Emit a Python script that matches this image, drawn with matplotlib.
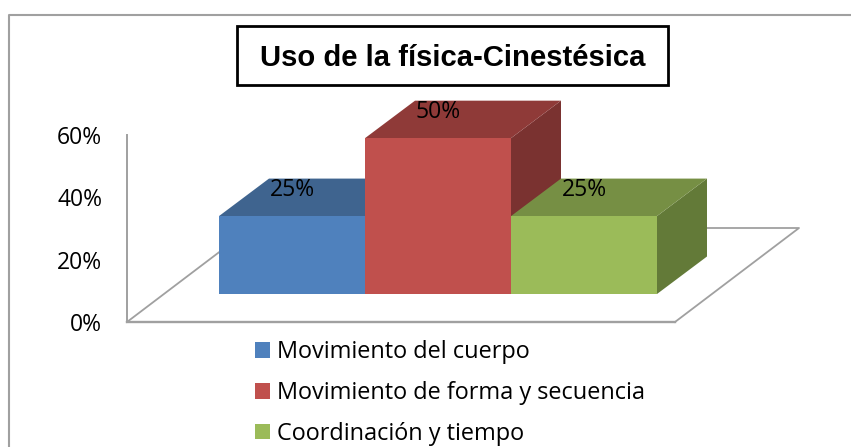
import matplotlib
matplotlib.use('Agg')
from matplotlib import pyplot as plt
from matplotlib.patches import Patch, Polygon, Rectangle

title = 'Uso de la física-Cinestésica'
categories = ['Movimiento del cuerpo', 'Movimiento de forma y secuencia', 'Coordinación y tiempo']
values = [25, 50, 25]
labels = ['25%', '50%', '25%']
yticks = [0, 20, 40, 60]
ytick_labels = ['0%', '20%', '40%', '60%']

front_colors = ['#4F81BD', '#C0504D', '#9BBB59']
top_colors = ['#3F648F', '#8F3A38', '#768F44']
side_colors = ['#35557A', '#7A3230', '#637A38']
GRAY = '#A0A0A0'
FONT = 'Open Sans'

W, H = 851, 447
fig = plt.figure(figsize=(W / 100, H / 100), dpi=100)
ax = fig.add_axes([0, 0, 1, 1])
ax.axis('off')

# scales, pixel calibration
px_x = 146.0      # one category
px_y = 187 / 60   # one percent
ax.set_xlim(-219 / px_x, (W - 219) / px_x)
ax.set_ylim((322 - H) / px_y, 322 / px_y)

# oblique depth of bars and floor
dx, dy = 50 / px_x, 37.5 / px_y
floor_dx, floor_dy = 124 / px_x, 94 / px_y
base = 28 / px_y
floor_l, floor_r = -92 / px_x, 456 / px_x

# frame, cut by the picture edge on right and bottom
fig.add_artist(plt.Line2D([8.5 / W, 8.5 / W, 1], [0, 1 - 14.5 / H, 1 - 14.5 / H],
                          color=GRAY, lw=1.5, transform=fig.transFigure))

# floor and axis
ax.plot([floor_r, floor_r + floor_dx, floor_l + floor_dx, floor_l],
        [0, floor_dy, floor_dy, 0], color=GRAY, lw=1.3, zorder=1)
ax.plot([floor_l, floor_r], [0, 0], color=GRAY, lw=1.7, zorder=1)
ax.plot([floor_l, floor_l], [0, yticks[-1]], color=GRAY, lw=1.4, zorder=1)

for t, s in zip(yticks, ytick_labels):
    ax.text(floor_l - 25 / px_x, t - 3 / px_y, s, ha='right', va='center', fontsize=16.5,
            family=FONT, color='black')

# bars
for i, v in enumerate(values):
    y0 = base
    y1 = base + v
    side = [(i + 1, y0), (i + 1 + dx, y0 + dy), (i + 1 + dx, y1 + dy), (i + 1, y1)]
    top = [(i, y1), (i + 1, y1), (i + 1 + dx, y1 + dy), (i + dx, y1 + dy)]
    ax.add_patch(Polygon(side, closed=True, fc=side_colors[i], ec='none', zorder=2 + i))
    ax.add_patch(Polygon(top, closed=True, fc=top_colors[i], ec='none', zorder=2 + i))
    ax.add_patch(Rectangle((i, y0), 1, v, fc=front_colors[i], ec='none', zorder=2 + i))
    ax.text(i + 0.5, y1 + 26 / px_y, labels[i], ha='center', va='center', fontsize=16.5,
            family=FONT, color='black', zorder=10)

# title box
fig.add_artist(Rectangle((237 / W, 1 - 84.5 / H), 431 / W, 58.5 / H, fc='white', ec='black',
                         lw=2, transform=fig.transFigure, zorder=20))
fig.text(453 / W, 1 - 57.5 / H, title, ha='center', va='center', fontsize=21.1,
         family='Liberation Sans', fontweight='bold', color='black', zorder=21)

# legend
handles = [Patch(fc=c, ec='none') for c in front_colors]
fs = 16.9
leg = fig.legend(handles, categories, loc='upper left', bbox_to_anchor=(255 / W, 1 - 340.5 / H),
                 bbox_transform=fig.transFigure, frameon=False,
                 prop={'family': FONT, 'size': fs}, borderpad=0, borderaxespad=0,
                 handlelength=10.8 / fs, handleheight=10.8 / fs, handletextpad=5 / fs,
                 labelspacing=0.71)

fig.savefig('out.png', dpi=100)
